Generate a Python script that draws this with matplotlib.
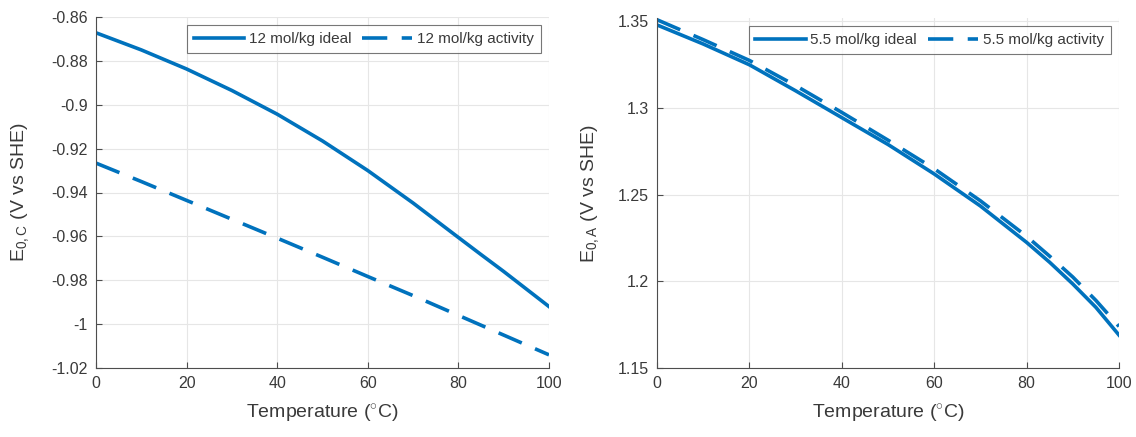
import matplotlib
matplotlib.use("Agg")
import matplotlib.pyplot as plt
import numpy as np

plt.rcParams['font.family'] = ['Liberation Sans', 'DejaVu Sans']
plt.rcParams['mathtext.fontset'] = 'custom'
plt.rcParams['mathtext.rm'] = 'Liberation Sans'
plt.rcParams['mathtext.it'] = 'Liberation Sans:italic'

temp = [0, 10, 20, 30, 40, 50, 60, 70, 80, 85, 90, 95, 100]

# Left panel: 12 mol/kg
left_ideal = [-0.8672, -0.8750, -0.8837, -0.8935, -0.9043, -0.9165, -0.9300, -0.9448, -0.9605, -0.9683, -0.9760, -0.9840, -0.9920]
left_activity = [-0.9266, -0.9350, -0.9436, -0.9522, -0.9608, -0.9695, -0.9783, -0.9870, -0.9960, -1.0005, -1.0050, -1.0095, -1.0140]

# Right panel: 5.5 mol/kg
right_ideal = [1.3480, 1.3370, 1.3250, 1.3100, 1.2945, 1.2790, 1.2620, 1.2435, 1.2225, 1.2110, 1.1985, 1.1850, 1.1690]
right_activity = [1.3510, 1.3395, 1.3275, 1.3130, 1.2975, 1.2815, 1.2650, 1.2465, 1.2260, 1.2145, 1.2025, 1.1890, 1.1740]

left_labels = ['12 mol/kg ideal', '12 mol/kg activity']
right_labels = ['5.5 mol/kg ideal', '5.5 mol/kg activity']

left_yticks = [-1.02, -1.0, -0.98, -0.96, -0.94, -0.92, -0.9, -0.88, -0.86]
left_yticklabels = ['-1.02', '-1', '-0.98', '-0.96', '-0.94', '-0.92', '-0.9', '-0.88', '-0.86']
right_yticks = [1.15, 1.2, 1.25, 1.3, 1.35]
right_yticklabels = ['1.15', '1.2', '1.25', '1.3', '1.35']
xticks = [0, 20, 40, 60, 80, 100]

color = '#0072BD'
axcol = '#4d4d4d'

fig = plt.figure(figsize=(11.36, 4.37), dpi=100)
W, H = 1136, 437
ax1 = fig.add_axes([96 / W, 1 - 368 / H, (549 - 96) / W, (368 - 17) / H])
ax2 = fig.add_axes([657 / W, 1 - 368 / H, (1119 - 657) / W, (368 - 18) / H])

def style(ax, yticks, ylabels, ylim, ylabel, ypad):
    ax.set_xlim(0, 100)
    ax.set_ylim(*ylim)
    ax.set_xticks(xticks)
    ax.set_xticklabels([str(t) for t in xticks])
    ax.set_yticks(yticks)
    ax.set_yticklabels(ylabels)
    ax.grid(True, color='#e6e6e6', linewidth=0.8)
    ax.set_axisbelow(True)
    for s in ['top', 'right']:
        ax.spines[s].set_visible(False)
    for s in ['left', 'bottom']:
        ax.spines[s].set_color(axcol)
        ax.spines[s].set_linewidth(0.8)
    ax.tick_params(direction='in', length=4, colors=axcol, labelsize=11.5,
                   labelcolor='#3a3a3a', pad=6)
    ax.set_xlabel('Temperature ($^{\\circ}$C)', fontsize=14, color='#3a3a3a', labelpad=8)
    ax.set_ylabel(ylabel, fontsize=14, color='#3a3a3a', labelpad=ypad)

dash = (0, (7, 4))
ax1.plot(temp, left_ideal, color=color, lw=2.6, label=left_labels[0])
ax1.plot(temp, left_activity, color=color, lw=2.6, ls=dash, label=left_labels[1])
style(ax1, left_yticks, left_yticklabels, (-1.02, -0.86), 'E$_{\\mathrm{0,C}}$ (V vs SHE)', 14)

ax2.plot(temp, right_ideal, color=color, lw=2.6, label=right_labels[0])
ax2.plot(temp, right_activity, color=color, lw=2.6, ls=dash, label=right_labels[1])
style(ax2, right_yticks, right_yticklabels, (1.15, 1.352), 'E$_{\\mathrm{0,A}}$ (V vs SHE)', 12)

for ax in (ax1, ax2):
    leg = ax.legend(loc='upper right', ncol=2, fontsize=11, frameon=True, fancybox=False,
                    edgecolor='#555555', handlelength=3.3, columnspacing=0.7,
                    handletextpad=0.3, borderpad=0.45, borderaxespad=0.55)
    leg.get_frame().set_linewidth(0.8)
    for t in leg.get_texts():
        t.set_color('#3a3a3a')

fig.savefig('out.png', dpi=100)
